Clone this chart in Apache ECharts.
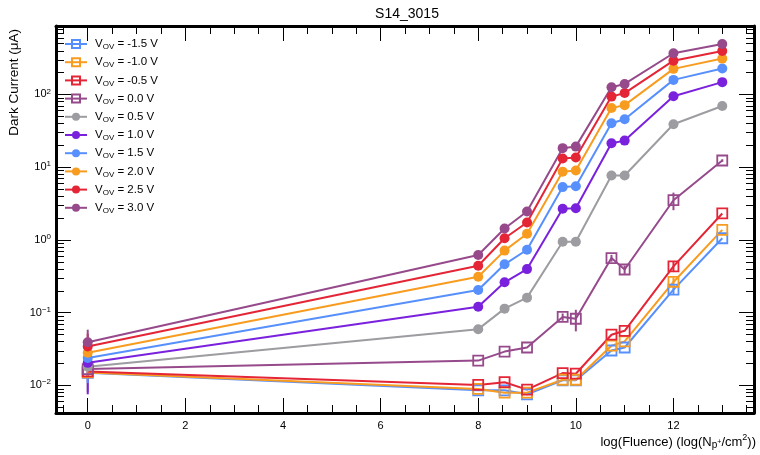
<!DOCTYPE html>
<html>
<head>
<meta charset="utf-8">
<script src="https://cdn.jsdelivr.net/npm/echarts@6/dist/echarts.min.js"></script>
<style>
  html, body { margin: 0; padding: 0; background: #fff; }
  #chart { width: 760px; height: 455px; }
</style>
</head>
<body>
<div id="chart"></div>
<script>
// x: log10 of fluence
const fluence = [0, 8, 8.54, 9, 9.73, 10, 10.73, 11, 12, 13];
// overvoltage labels (legend order)
const vov = ["-1.5", "-1.0", "-0.5", "0.0", "0.5", "1.0", "1.5", "2.0", "2.5", "3.0"];

// dark current (uA) per overvoltage
const cur_m15 = [0.0148, 0.0085, 0.0085, 0.0075, 0.0117, 0.0117, 0.030, 0.033, 0.206, 1.05];
const cur_m10 = [0.0150, 0.0089, 0.0079, 0.0079, 0.0119, 0.0119, 0.035, 0.040, 0.263, 1.37];
const cur_m05 = [0.0155, 0.0101, 0.0110, 0.0087, 0.0147, 0.0144, 0.0495, 0.056, 0.43, 2.30];
const cur_p00 = [0.0167, 0.0218, 0.029, 0.033, 0.087, 0.082, 0.56, 0.39, 3.5, 12.3];
const cur_p05 = [0.018, 0.059, 0.113, 0.16, 0.94, 0.94, 7.64, 7.64, 38.8, 69];
const cur_p10 = [0.0203, 0.12, 0.26, 0.395, 2.67, 2.72, 21.3, 23.1, 94, 147];
const cur_p15 = [0.0237, 0.204, 0.46, 0.73, 5.3, 5.46, 40, 45.5, 158, 226];
const cur_p20 = [0.028, 0.31, 0.71, 1.21, 8.6, 8.95, 65, 71, 224, 310];
const cur_p25 = [0.034, 0.44, 1.05, 1.73, 13.1, 13.5, 93, 104, 290, 395];
const cur_p30 = [0.039, 0.616, 1.43, 2.45, 18.2, 19.1, 125, 139, 367, 491];

// error bars (uA), 0 = not drawn
const err_m15 = [0, 0, 0, 0, 0, 0, 0, 0, 0.03, 0];
const err_m10 = [0, 0, 0, 0, 0, 0, 0, 0, 0.04, 0];
const err_m05 = [0, 0, 0, 0, 0, 0, 0, 0, 0.07, 0];
const err_p00 = [0, 0, 0, 0, 0.01, 0.027, 0.06, 0.05, 0.95, 0.5];
const err_p05 = [0.01, 0, 0, 0, 0, 0, 0, 0, 0, 0];
const err_p10 = [0.0128, 0, 0, 0, 0, 0, 0, 0, 0, 0];
const err_p15 = [0.013, 0, 0, 0, 0, 0, 0, 0, 0, 0];
const err_p20 = [0.015, 0, 0, 0, 0, 0, 0, 0, 0, 0];
const err_p25 = [0.017, 0, 0, 0, 0, 0, 0, 0, 0, 0];
const err_p30 = [0.019, 0, 0, 0, 0, 0, 0, 0, 0, 0];

// axis ticks
const xMajor = [0, 2, 4, 6, 8, 10, 12];
const xMinor = [-0.5, 0.5, 1, 1.5, 2.5, 3, 3.5, 4.5, 5, 5.5, 6.5, 7, 7.5, 8.5, 9, 9.5, 10.5, 11, 11.5, 12.5, 13, 13.5];
const yMajor = [0.01, 0.1, 1, 10, 100];

const xMin = -0.65, xMax = 13.65;
const yMin = 0.00415, yMax = 870;

// minor log ticks (2..9 x 10^n)
const yMinor = [];
for (let e = -3; e <= 2; e++) {
  for (let k = 2; k <= 9; k++) {
    const v = k * Math.pow(10, e);
    if (v > yMin && v < yMax) yMinor.push(v);
  }
}

const currents = [cur_m15, cur_m10, cur_m05, cur_p00, cur_p05, cur_p10, cur_p15, cur_p20, cur_p25, cur_p30];
const errors = [err_m15, err_m10, err_m05, err_p00, err_p05, err_p10, err_p15, err_p20, err_p25, err_p30];
const colors = ["#5790fc", "#f89c20", "#e42536", "#964a8b", "#9c9ca1", "#7a21dd", "#5790fc", "#f89c20", "#e42536", "#964a8b"];

const FONT = "Liberation Sans";
let myChart = echarts.init(document.getElementById("chart"));

let series = [];

// minor y ticks on both frame sides, placed through the log axis
series.push({
  name: "yMinorTicks",
  type: "custom",
  silent: true,
  z: 5,
  clip: false,
  data: yMinor.map((v) => [xMin, v]),
  encode: { x: 0, y: 1 },
  renderItem: (params, api) => {
    const cs = params.coordSys;
    const y = Math.round(api.coord([api.value(0), api.value(1)])[1]) + 0.5;
    const st = { stroke: "#000", lineWidth: 1 };
    return {
      type: "group",
      children: [
        { type: "line", shape: { x1: cs.x, y1: y, x2: cs.x + 8, y2: y }, style: st },
        { type: "line", shape: { x1: cs.x + cs.width, y1: y, x2: cs.x + cs.width - 8, y2: y }, style: st },
      ],
    };
  },
});

currents.forEach((vals, i) => {
  const open = i < 4; // negative / zero overvoltage -> open squares
  // error bars
  series.push({
    name: "err" + vov[i],
    type: "custom",
    z: 2,
    silent: true,
    data: fluence.map((x, j) => [x, vals[j], errors[i][j]]).filter((d) => d[2] > 0),
    encode: { x: 0, y: 1 },
    renderItem: (params, api) => {
      const x = api.value(0), y = api.value(1), e = api.value(2);
      const top = api.coord([x, y + e]);
      const bot = api.coord([x, Math.max(y - e, yMin)]);
      return {
        type: "line",
        shape: { x1: top[0], y1: top[1], x2: bot[0], y2: bot[1] },
        style: { stroke: colors[i], lineWidth: 2 },
      };
    },
  });
  series.push({
    name: vov[i],
    type: "line",
    z: 3,
    data: fluence.map((x, j) => [x, vals[j]]),
    symbol: open ? "rect" : "circle",
    symbolSize: 10,
    lineStyle: { color: colors[i], width: 2 },
    itemStyle: open
      ? { color: "rgba(255,255,255,0)", borderColor: colors[i], borderWidth: 1.8 }
      : { color: colors[i] },
  });
});

const tickStyle = { color: "#000", width: 1 };
const frameLine = { show: true, onZero: false, lineStyle: { color: "#000", width: 3 } };
const noLine = { show: false, onZero: false };

function xTickAxis(position, values, len, frame, labels) {
  return {
    type: "value", min: xMin, max: xMax, position: position,
    axisLine: frame ? frameLine : noLine,
    axisTick: { inside: true, interval: 0, length: len, lineStyle: tickStyle, customValues: values },
    axisLabel: labels
      ? { customValues: values, margin: 7, fontFamily: FONT, fontSize: 11, color: "#000" }
      : { show: false },
    splitLine: { show: false },
  };
}

myChart.setOption({
  animation: false,
  grid: { left: 56, right: 6, top: 26, bottom: 42 },
  legend: {
    orient: "vertical",
    left: 64,
    top: 37,
    padding: 0,
    itemWidth: 22,
    itemHeight: 10,
    itemGap: 4.2,
    data: vov,
    formatter: (n) => "V{sub|OV} = " + n + " V",
    textStyle: {
      fontFamily: FONT,
      fontSize: 11.5,
      color: "#000",
      lineHeight: 14,
      padding: [0, 0, 0, 3],
      rich: { sub: { fontFamily: FONT, fontSize: 8, lineHeight: 14, verticalAlign: "bottom" } },
    },
  },
  xAxis: [
    xTickAxis("bottom", xMajor, 15, true, true),
    xTickAxis("bottom", xMinor, 8, false, false),
    xTickAxis("top", xMajor, 15, true, false),
    xTickAxis("top", xMinor, 8, false, false),
  ],
  yAxis: [
    {
      type: "log", logBase: 10, min: yMin, max: yMax, position: "left",
      axisLine: frameLine,
      axisTick: { inside: true, interval: 0, length: 15, lineStyle: tickStyle, customValues: yMajor },
      axisLabel: {
        customValues: yMajor,
        margin: 5,
        fontFamily: FONT,
        fontSize: 11,
        color: "#000",
        formatter: (v) => {
          const e = Math.round(Math.log10(v));
          return "10{sup|" + (e < 0 ? "\u2212" + -e : e) + "}";
        },
        rich: { sup: { fontFamily: FONT, fontSize: 8, verticalAlign: "top", lineHeight: 14 } },
      },
      splitLine: { show: false },
    },
    {
      type: "log", logBase: 10, min: yMin, max: yMax, position: "right",
      axisLine: frameLine,
      axisTick: { inside: true, interval: 0, length: 15, lineStyle: tickStyle, customValues: yMajor },
      axisLabel: { show: false },
      splitLine: { show: false },
    },
  ],
  graphic: [
    {
      type: "text", x: 407, y: 14,
      style: { text: "S14_3015", font: "14px " + FONT, fill: "#000", align: "center", verticalAlign: "middle" },
    },
    {
      type: "text", x: 14, y: 29, rotation: Math.PI / 2,
      style: { text: "Dark Current (μA)", font: "13.5px " + FONT, fill: "#000", align: "right", verticalAlign: "middle" },
    },
    {
      type: "text", x: 756, y: 442,
      style: {
        text: "log(Fluence) (log(N{sub|p}{subsup|+}/cm{sup|2}))",
        font: "13px " + FONT, fill: "#000", align: "right", verticalAlign: "middle",
        rich: {
          sub: { font: "10px " + FONT, fill: "#000", verticalAlign: "bottom", lineHeight: 17 },
          subsup: { font: "7px " + FONT, fill: "#000", verticalAlign: "middle", lineHeight: 17 },
          sup: { font: "9px " + FONT, fill: "#000", verticalAlign: "top", lineHeight: 17 },
        },
      },
    },
  ],
  series: series,
});
</script>
</body>
</html>
